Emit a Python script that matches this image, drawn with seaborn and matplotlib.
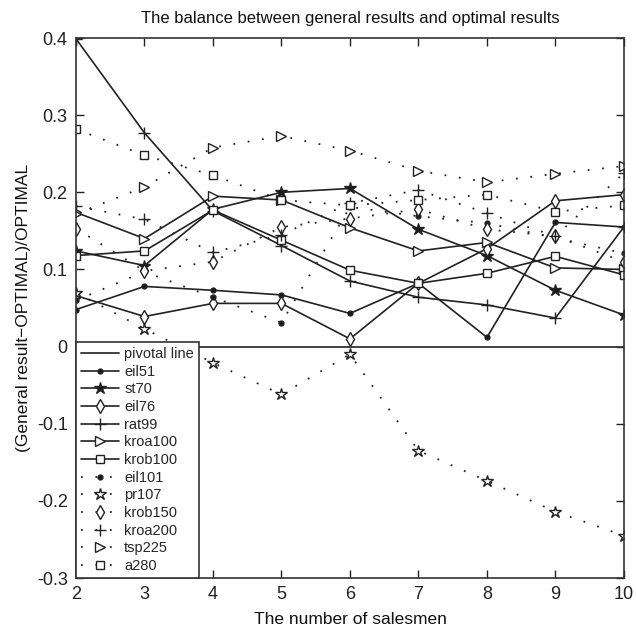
import matplotlib
matplotlib.use("Agg")
import matplotlib.pyplot as plt
import seaborn as sns
import pandas as pd

salesmen = [2, 3, 4, 5, 6, 7, 8, 9, 10]

eil51 = [0.048, 0.078, 0.073, 0.067, 0.043, 0.082, 0.012, 0.161, 0.155]
st70 = [0.124, 0.105, 0.178, 0.200, 0.205, 0.152, 0.118, 0.073, 0.041]
eil76 = [0.066, 0.039, 0.056, 0.056, 0.010, 0.082, 0.127, 0.189, 0.197]
rat99 = [0.399, 0.277, 0.176, 0.131, 0.085, 0.064, 0.054, 0.037, 0.155]
kroa100 = [0.174, 0.140, 0.195, 0.190, 0.154, 0.124, 0.135, 0.102, 0.100]
krob100 = [0.118, 0.124, 0.177, 0.138, 0.099, 0.082, 0.095, 0.117, 0.093]
eil101 = [0.060, 0.097, 0.064, 0.031, 0.181, 0.169, 0.160, 0.141, 0.121]
pr107 = [0.070, 0.023, -0.021, -0.062, -0.010, -0.135, -0.174, -0.214, -0.245]
krob150 = [0.153, 0.098, 0.110, 0.155, 0.166, 0.178, 0.152, 0.143, 0.110]
kroa200 = [0.182, 0.165, 0.122, 0.145, 0.186, 0.203, 0.173, 0.143, 0.225]
tsp225 = [0.172, 0.207, 0.258, 0.273, 0.254, 0.228, 0.213, 0.224, 0.234]
a280 = [0.282, 0.248, 0.222, 0.190, 0.183, 0.190, 0.197, 0.175, 0.183]

pivotal = [0, 0, 0, 0, 0, 0, 0, 0, 0]

series_names = ["eil51", "st70", "eil76", "rat99", "kroa100", "krob100",
                "eil101", "pr107", "krob150", "kroa200", "tsp225", "a280"]
series_values = [eil51, st70, eil76, rat99, kroa100, krob100,
                 eil101, pr107, krob150, kroa200, tsp225, a280]

y_ticks = [-0.3, -0.2, -0.1, 0, 0.1, 0.2, 0.3, 0.4]
y_tick_labels = ["-0.3", "-0.2", "-0.1", "0", "0.1", "0.2", "0.3", "0.4"]

sns.set_theme(style="white")
plt.rcParams["font.family"] = ["Liberation Sans", "DejaVu Sans"]

fig = plt.figure(figsize=(6.36, 6.37), dpi=100)
ax = fig.add_axes([0.1195, 0.0926, 0.8615, 0.8477])

dot_ls = (0, (1, 7))
styles = {
    "eil51": dict(marker="o", ms=3.5, mfc="k", ls="-"),
    "st70": dict(marker="*", ms=9, mfc="k", ls="-"),
    "eil76": dict(marker="d", ms=7, mfc="white", ls="-"),
    "rat99": dict(marker="+", ms=8, mfc="k", ls="-"),
    "kroa100": dict(marker=">", ms=6.5, mfc="white", ls="-"),
    "krob100": dict(marker="s", ms=5.5, mfc="white", ls="-"),
    "eil101": dict(marker="o", ms=3.5, mfc="k", ls=dot_ls),
    "pr107": dict(marker="*", ms=9, mfc="white", ls=dot_ls),
    "krob150": dict(marker="d", ms=7, mfc="white", ls=dot_ls),
    "kroa200": dict(marker="+", ms=8, mfc="k", ls=dot_ls),
    "tsp225": dict(marker=">", ms=6.5, mfc="white", ls=dot_ls),
    "a280": dict(marker="s", ms=5.5, mfc="white", ls=dot_ls),
}

df_piv = pd.DataFrame({"x": salesmen, "y": pivotal})
sns.lineplot(data=df_piv, x="x", y="y", ax=ax, color="#333333", lw=1.3,
             label="pivotal line")

for name, vals in zip(series_names, series_values):
    df = pd.DataFrame({"x": salesmen, "y": vals})
    st = styles[name]
    sns.lineplot(data=df, x="x", y="y", ax=ax, color="#222222",
                 lw=1.2 if st["ls"] == "-" else 1.3,
                 linestyle=st["ls"], marker=st["marker"], markersize=st["ms"],
                 markerfacecolor=st["mfc"], markeredgecolor="#222222",
                 markeredgewidth=1.0, label=name)

ax.set_xlim(2, 10)
ax.set_ylim(-0.3, 0.4)
ax.set_xticks(salesmen)
ax.set_xticklabels([str(v) for v in salesmen])
ax.set_yticks(y_ticks)
ax.set_yticklabels(y_tick_labels)
ax.tick_params(axis="both", direction="in", length=6, width=1, labelsize=13,
               top=True, right=True, bottom=True, left=True, colors="#222222",
               pad=6)
for sp in ax.spines.values():
    sp.set_color("#333333")
    sp.set_linewidth(1.2)

ax.set_title("The balance between general results and optimal results",
             fontsize=12, pad=11, color="#111111")
ax.set_xlabel("The number of salesmen", fontsize=12.5, labelpad=6, color="#111111")
ax.set_ylabel("(General result\u2212OPTIMAL)/OPTIMAL", fontsize=12.5, labelpad=4,
              color="#111111")

leg = ax.legend(loc="lower left", bbox_to_anchor=(0, 0), borderaxespad=0.0,
                fontsize=10.5, labelspacing=0.25, handlelength=2.6,
                handletextpad=0.35, borderpad=0.35, frameon=True, fancybox=False,
                framealpha=1.0, edgecolor="#333333")
leg.get_frame().set_linewidth(1.2)

fig.savefig("out.png", dpi=100)
